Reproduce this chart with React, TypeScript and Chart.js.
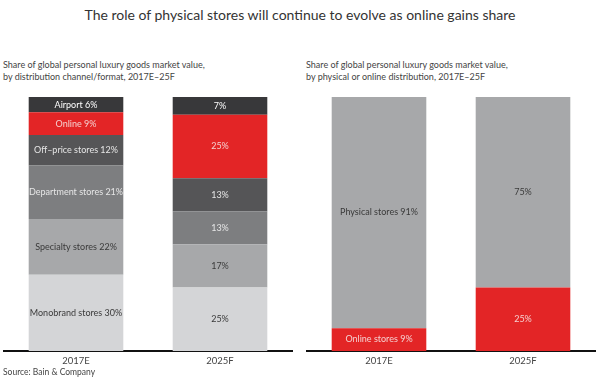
import React, { useEffect, useRef } from 'react';
import { Chart, registerables } from 'chart.js';
Chart.register(...registerables);

const FONT = "Lato, 'Open Sans', sans-serif";

const years = ['2017E', '2025F'];

// Left chart: by channel (bottom → top)
const channelNames = ['Monobrand stores', 'Specialty stores', 'Department stores', 'Off–price stores', 'Online', 'Airport'];
const monobrand = [30, 25];
const specialty = [22, 17];
const department = [21, 13];
const offPrice = [12, 13];
const onlineChannel = [9, 25];
const airport = [6, 7];
const channelColors = ['#d4d5d7', '#a7a8aa', '#7d7e80', '#555557', '#e32526', '#38383a'];
const channelLabelColors = ['#3a3a3a', '#3a3a3a', '#e6e6e6', '#e6e6e6', '#f5d0d0', '#ffffff'];

// Right chart: physical vs online (bottom → top)
const splitNames = ['Online stores', 'Physical stores'];
const onlineStores = [9, 25];
const physicalStores = [91, 75];
const splitColors = ['#e32526', '#a7a8aa'];
const splitLabelColors = ['#f5d0d0', '#3a3a3a'];

const labelPlugin = {
  id: 'segLabels',
  afterDatasetsDraw(chart: any) {
    const ctx = chart.ctx;
    ctx.save();
    ctx.font = `9px ${FONT}`;
    ctx.textAlign = 'center';
    ctx.textBaseline = 'middle';
    chart.data.datasets.forEach((ds: any, di: number) => {
      const meta = chart.getDatasetMeta(di);
      meta.data.forEach((bar: any, i: number) => {
        const v = ds.data[i];
        const txt = i === 0 ? `${ds.label} ${v}%` : `${v}%`;
        ctx.fillStyle = ds.labelColor;
        ctx.fillText(txt, bar.x, (bar.y + bar.base) / 2);
      });
    });
    ctx.restore();
  },
};

function StackChart({ series, names, colors, labelColors, padLeft, padRight }: any) {
  const ref = useRef<HTMLCanvasElement>(null);
  useEffect(() => {
    const chart = new Chart(ref.current!, {
      type: 'bar',
      data: {
        labels: years,
        datasets: series.map((s: number[], k: number) => ({
          label: names[k],
          data: s,
          backgroundColor: colors[k],
          labelColor: labelColors[k],
          borderWidth: 0,
          barPercentage: 0.657,
          categoryPercentage: 1,
        })),
      },
      options: {
        responsive: false,
        animation: false,
        layout: { padding: { left: padLeft, right: padRight, top: 7, bottom: 0 } },
        plugins: { legend: { display: false }, tooltip: { enabled: false } },
        scales: {
          x: {
            stacked: true,
            grid: { display: false, drawTicks: false, tickLength: 0 },
            border: { display: true, color: '#111', width: 2 },
            ticks: { font: { family: FONT, size: 9.5 }, color: '#444', padding: 4 },
            afterFit: (s: any) => { s.height = 19; },
          },
          y: { stacked: true, min: 0, max: 100, display: false },
        },
      } as any,
      plugins: [labelPlugin],
    });
    return () => chart.destroy();
  }, []);
  return <canvas ref={ref} width={300} height={280} style={{ width: 300, height: 280, display: 'block' }} />;
}

const sub: React.CSSProperties = { position: 'absolute', top: 59, fontSize: 9, lineHeight: '12px', color: '#444', fontFamily: FONT };

export default function App() {
  return (
    <div style={{ position: 'fixed', left: 0, top: 0, width: 600, height: 382, background: '#fff', fontFamily: FONT, overflow: 'hidden' }}>
      <div style={{ position: 'absolute', top: 6, left: 0, width: 600, textAlign: 'center', fontSize: 14, color: '#333' }}>
        The role of physical stores will continue to evolve as online gains share
      </div>
      <div style={{ ...sub, left: 3 }}>
        Share of global personal luxury goods market value,<br />by distribution channel/format, 2017E–25F
      </div>
      <div style={{ ...sub, left: 306 }}>
        Share of global personal luxury goods market value,<br />by physical or online distribution, 2017E–25F
      </div>
      <div style={{ position: 'absolute', left: 0, top: 90 }}>
        <StackChart
          series={[monobrand, specialty, department, offPrice, onlineChannel, airport]}
          names={channelNames}
          colors={channelColors}
          labelColors={channelLabelColors}
          padLeft={4}
          padRight={8}
        />
      </div>
      <div style={{ position: 'absolute', left: 300, top: 90 }}>
        <StackChart
          series={[onlineStores, physicalStores]}
          names={splitNames}
          colors={splitColors}
          labelColors={splitLabelColors}
          padLeft={7}
          padRight={5}
        />
      </div>
      <div style={{ position: 'absolute', left: 3, top: 367, fontSize: 8.5, color: '#444' }}>
        Source: Bain &amp; Company
      </div>
    </div>
  );
}
